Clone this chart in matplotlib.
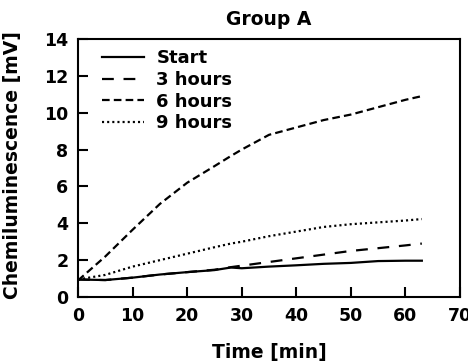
import matplotlib
matplotlib.use("Agg")
import matplotlib.pyplot as plt

# Data
t = [0, 5, 10, 15, 20, 25, 28, 30, 35, 40, 45, 50, 55, 60, 63]
start = [0.95, 0.92, 1.05, 1.22, 1.35, 1.46, 1.6, 1.56, 1.65, 1.72, 1.8, 1.85, 1.95, 1.97, 1.97]
h3 = [0.95, 0.92, 1.05, 1.22, 1.35, 1.48, 1.62, 1.7, 1.9, 2.1, 2.3, 2.5, 2.65, 2.8, 2.9]
h6 = [0.9, 2.2, 3.65, 5.05, 6.2, 7.1, 7.65, 8.0, 8.8, 9.2, 9.6, 9.9, 10.3, 10.7, 10.9]
h9 = [0.95, 1.2, 1.65, 2.0, 2.35, 2.7, 2.9, 3.0, 3.3, 3.55, 3.8, 3.95, 4.05, 4.15, 4.23]

labels = ["Start", "3 hours", "6 hours", "9 hours"]
xticks = [0, 10, 20, 30, 40, 50, 60, 70]
yticks = [0, 2, 4, 6, 8, 10, 12, 14]

plt.rcParams['font.family'] = ['DejaVu Sans']
plt.rcParams['font.weight'] = 'bold'
plt.rcParams['lines.scale_dashes'] = False

fs = 12.5
fl = 13.5
fig = plt.figure(figsize=(4.68, 3.63), dpi=100)
ax = fig.add_axes([0.1667, 0.1818, 0.8163, 0.7108])

lw = 1.6
ax.plot(t, start, color='black', lw=lw, linestyle='-', label=labels[0])
ax.plot(t, h3, color='black', lw=lw, linestyle=(0, (8.5, 7)), label=labels[1])
ax.plot(t, h6, color='black', lw=lw, linestyle=(0, (5.5, 3)), label=labels[2])
ax.plot(t, h9, color='black', lw=lw, linestyle=(0, (1.5, 2.2)), label=labels[3])

ax.set_xlim(0, 70)
ax.set_ylim(0, 14)
ax.set_xticks(xticks)
ax.set_yticks(yticks)
ax.tick_params(direction='in', length=7, width=1.5, labelsize=fs, pad=7,
               top=False, right=False, colors='black')
for s in ax.spines.values():
    s.set_linewidth(1.5)

ax.set_title("Group A", fontsize=fl, pad=10, fontweight='bold')
ax.set_xlabel("Time [min]", fontsize=fl, fontweight='bold')
ax.set_ylabel("Chemiluminescence [mV]", fontsize=fl, fontweight='bold')
ax.xaxis.set_label_coords(0.5, -0.178)
ax.yaxis.set_label_coords(-0.147, 0.51)

ax.legend(loc='upper left', bbox_to_anchor=(0.063, 0.96), frameon=False,
          prop={'size': 13, 'weight': 'bold'}, handlelength=2.3,
          handletextpad=0.7, labelspacing=0.2,
          borderaxespad=0, borderpad=0)

fig.savefig("out.png", dpi=100)
